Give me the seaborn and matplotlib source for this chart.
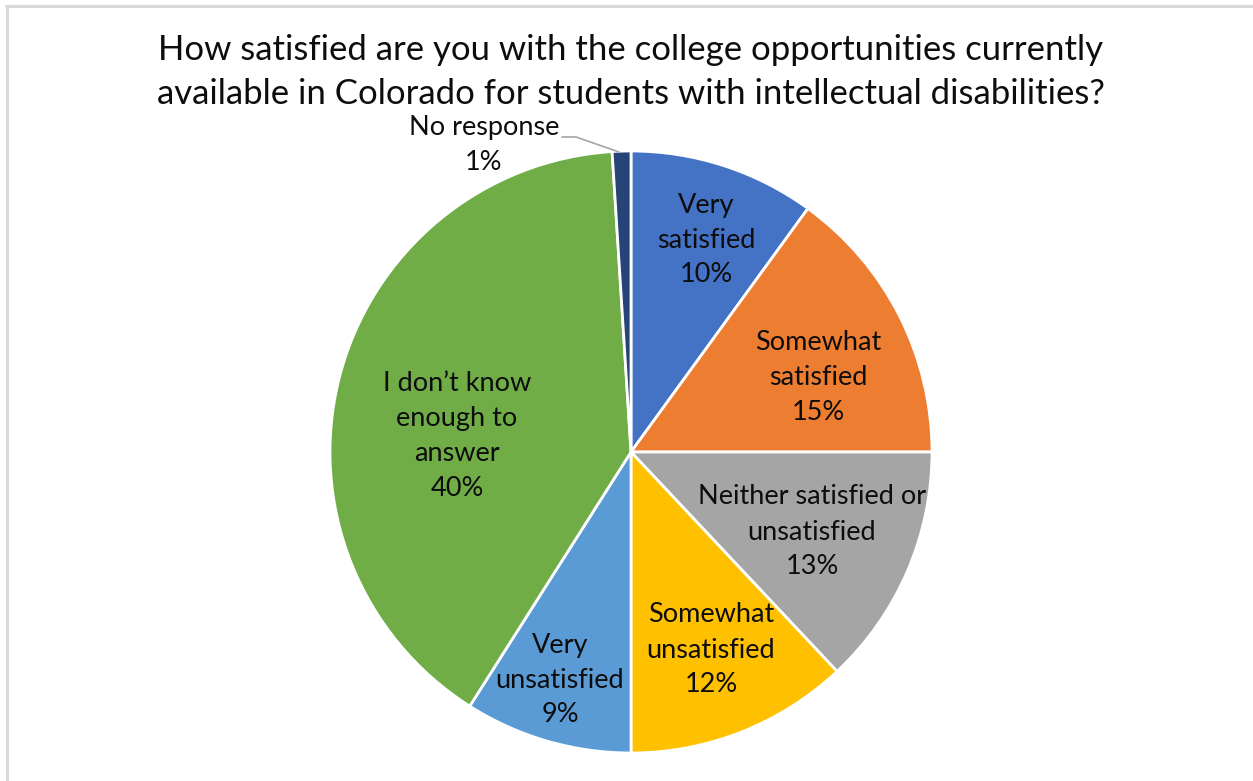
import matplotlib
matplotlib.use("Agg")
import matplotlib.pyplot as plt
import seaborn as sns

# Survey responses, clockwise from 12 o'clock
categories = [
    "Very\nsatisfied",
    "Somewhat\nsatisfied",
    "Neither satisfied or\nunsatisfied",
    "Somewhat\nunsatisfied",
    "Very\nunsatisfied",
    "I don\u2019t know\nenough to\nanswer",
    "No response",
]
percentages = [10, 15, 13, 12, 9, 40, 1]
slice_colors = ["#4472C4", "#ED7D31", "#A5A5A5", "#FFC000", "#5B9BD5", "#70AD47", "#264478"]

title = ("How satisfied are you with the college opportunities currently\n"
         "available in Colorado for students with intellectual disabilities?")

sns.set_theme(style="white")
plt.rcParams["font.family"] = ["Lato", "DejaVu Sans"]

W, H = 1253, 781
fig = plt.figure(figsize=(W / 100, H / 100), dpi=100)
fig.patch.set_facecolor("white")

# chart frame (top and left edges visible)
frame_color = "#d9d9d9"
fig.add_artist(plt.Line2D([6 / W, 1.0], [1 - 6 / H, 1 - 6 / H], transform=fig.transFigure,
                          color=frame_color, lw=2.2))
fig.add_artist(plt.Line2D([6.5 / W, 6.5 / W], [0.0, 1 - 6 / H], transform=fig.transFigure,
                          color=frame_color, lw=2.2))

cx, cy, r = 631, 452, 301
ax = fig.add_axes([(cx - r) / W, (H - cy - r) / H, 2 * r / W, 2 * r / H])
ax.set_xlim(-1, 1)
ax.set_ylim(-1, 1)
ax.set_aspect("equal")
ax.axis("off")

wedges, _ = ax.pie(
    percentages,
    colors=slice_colors,
    startangle=90,
    counterclock=False,
    radius=1,
    center=(0, 0),
    wedgeprops=dict(edgecolor="white", linewidth=2.0),
    frame=False,
)
ax.set_xlim(-1, 1)
ax.set_ylim(-1, 1)

# label anchor points (pixel positions converted to axis units)
label_px = [(706, 240), (818, 378), (812, 532), (711, 650), (560, 680), (457, 436), (484, 145)]
text_color = "#0d0d0d"
for name, pct, (px, py) in zip(categories, percentages, label_px):
    x = (px - cx) / r
    y = (cy - py) / r
    ax.text(x, y, f"{name}\n{pct}%", ha="center", va="center", fontsize=19.5,
            color=text_color, linespacing=1.5, clip_on=False)

# leader line for the thin slice
lx = [(562 - cx) / r, (576 - cx) / r, (619 - cx) / r]
ly = [(cy - 137) / r, (cy - 137) / r, (cy - 152) / r]
ax.plot(lx, ly, color="#a6a6a6", lw=1.2, clip_on=False)

fig.text(cx / W, 1 - 72 / H, title, ha="center", va="center", fontsize=25,
         color=text_color, linespacing=1.43)

fig.savefig("out.png", dpi=100, facecolor="white")
